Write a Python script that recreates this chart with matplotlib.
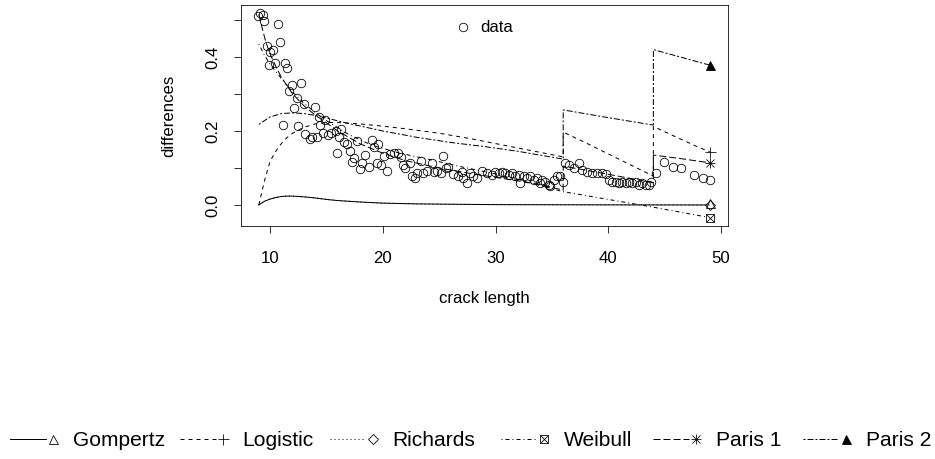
import matplotlib
matplotlib.use('Agg')
import matplotlib.pyplot as plt
from matplotlib.lines import Line2D
from matplotlib.legend_handler import HandlerBase

plt.rcParams['font.family'] = ['Liberation Sans', 'DejaVu Sans']
plt.rcParams['font.size'] = 16.8

# observed differences vs crack length
data_x = [8.9, 9.14, 9.34, 9.49, 9.7, 9.88, 10.0, 10.23, 10.47, 10.74, 10.92, 11.12, 11.33, 11.51,
          11.72, 11.95, 12.1, 12.37, 12.5, 12.7, 12.97, 13.14, 13.5, 13.74, 13.95, 14.15, 14.33,
          14.45, 14.7, 14.9, 15.13, 15.43, 15.81, 15.93, 16.1, 16.32, 16.6, 16.8, 17.1, 17.3, 17.4,
          17.7, 18.0, 18.15, 18.4, 18.78, 19.0, 19.2, 19.44, 19.58, 19.8, 20.09, 20.33, 20.62,
          20.98, 21.37, 21.58, 21.75, 21.96, 22.4, 22.55, 22.85, 23.0, 23.36, 23.6, 23.95, 24.34,
          24.54, 24.84, 25.14, 25.37, 25.61, 25.82, 26.26, 26.7, 27.0, 27.15, 27.5, 27.75, 28.04,
          28.34, 28.8, 29.2, 29.7, 29.97, 30.27, 30.57, 30.86, 31.16, 31.46, 31.75, 32.05, 32.2,
          32.49, 32.8, 33.09, 33.38, 33.68, 33.91, 34.13, 34.42, 34.72, 34.87, 35.16, 35.46, 35.76,
          36.0,
          36.2, 36.5, 36.95, 37.4, 37.7, 38.14, 38.59, 39.03, 39.48, 39.77, 40.06, 40.36, 40.66,
          40.95, 41.25, 41.55, 41.84, 42.14, 42.44, 42.73, 43.03, 43.33, 43.6, 43.8, 44.2,
          44.96, 45.7, 46.45, 47.64, 48.38, 49.06]
data_y = [0.512, 0.518, 0.514, 0.498, 0.43, 0.378, 0.414, 0.419, 0.385, 0.488, 0.441, 0.216, 0.385, 0.371,
          0.309, 0.324, 0.263, 0.288, 0.214, 0.329, 0.273, 0.192, 0.177, 0.185, 0.264, 0.185, 0.237,
          0.216, 0.195, 0.23, 0.189, 0.194, 0.201, 0.141, 0.185, 0.205, 0.171, 0.165, 0.147, 0.117, 0.126,
          0.174, 0.096, 0.113, 0.135, 0.104, 0.176, 0.158, 0.113, 0.165, 0.108, 0.132, 0.092, 0.138,
          0.14, 0.14, 0.131, 0.108, 0.099, 0.113, 0.077, 0.072, 0.086, 0.119, 0.086, 0.093, 0.113,
          0.09, 0.093, 0.087, 0.132, 0.099, 0.104, 0.084, 0.077, 0.09, 0.072, 0.059, 0.086, 0.077,
          0.072, 0.092, 0.086, 0.081, 0.09, 0.086, 0.09, 0.086, 0.081, 0.086, 0.077, 0.081, 0.06,
          0.077, 0.072, 0.077, 0.068, 0.072, 0.06, 0.068, 0.063, 0.054, 0.05, 0.068, 0.077, 0.077,
          0.063,
          0.113, 0.108, 0.099, 0.113, 0.095, 0.09, 0.087, 0.086, 0.086, 0.084, 0.068, 0.063, 0.063,
          0.059, 0.063, 0.059, 0.063, 0.059, 0.063, 0.054, 0.059, 0.054, 0.054, 0.063, 0.087,
          0.117, 0.104, 0.099, 0.081, 0.072, 0.068]

# fitted models (piecewise over the three load blocks where they jump)
gompertz_x = [9, 9.5, 10, 10.5, 11, 11.5, 12, 13, 14, 15, 16, 18, 20, 23, 26, 30, 36, 42, 49]
gompertz_y = [0, 0.01, 0.016, 0.02, 0.023, 0.024, 0.024, 0.022, 0.019, 0.015, 0.012, 0.008, 0.005,
              0.003, 0.002, 0.001, 0.0005, 0.0002, 0.0]

logistic_x = [[9, 9.5, 10, 10.5, 11, 11.5, 12, 13, 14, 15, 16, 18, 20, 22, 25, 28, 31, 34, 36],
              [36, 38, 40, 42, 44],
              [44, 45, 46, 47, 48, 49]]
logistic_y = [[0, 0.065, 0.118, 0.145, 0.166, 0.182, 0.194, 0.21, 0.219, 0.223, 0.223, 0.219, 0.213,
               0.206, 0.194, 0.178, 0.16, 0.142, 0.13],
              [0.197, 0.168, 0.138, 0.108, 0.078],
              [0.212, 0.198, 0.184, 0.17, 0.156, 0.144]]

# Richards sits on top of the Gompertz curve
richards_x = [9, 9.5, 10, 10.5, 11, 11.5, 12, 13, 14, 15, 16, 18, 20, 23, 26, 30, 36, 42, 49]
richards_y = [0, 0.01, 0.016, 0.02, 0.023, 0.024, 0.024, 0.022, 0.019, 0.015, 0.012, 0.008, 0.005,
              0.003, 0.002, 0.001, 0.001, 0.0005, 0.0]

weibull_x = [9, 9.5, 10, 11, 12, 13, 14, 15, 17, 19, 21.5, 24, 27, 30, 33, 36, 40, 44, 49]
weibull_y = [0.435, 0.405, 0.38, 0.342, 0.305, 0.275, 0.25, 0.228, 0.19, 0.162, 0.14, 0.124,
             0.103, 0.084, 0.06, 0.036, 0.015, -0.006, -0.034]

paris1_x = [[9, 9.3, 9.6, 10, 10.5, 11, 12, 13, 14, 15, 16, 18, 20, 22, 25, 28, 31, 34, 36],
            [36, 40, 44],
            [44, 46.5, 49]]
paris1_y = [[0.515, 0.478, 0.443, 0.408, 0.375, 0.345, 0.3, 0.268, 0.243, 0.222, 0.2, 0.165, 0.14,
             0.12, 0.1, 0.084, 0.07, 0.055, 0.04],
            [0.105, 0.083, 0.06],
            [0.135, 0.125, 0.114]]

paris2_x = [[9, 10, 11, 12, 13, 14, 15, 17, 20, 23, 26, 29, 32, 36],
            [36, 40, 44],
            [44, 46.5, 49]]
paris2_y = [[0.218, 0.238, 0.247, 0.249, 0.247, 0.242, 0.235, 0.22, 0.2, 0.183, 0.169, 0.158, 0.145, 0.124],
            [0.257, 0.236, 0.216],
            [0.42, 0.399, 0.378]]

labels = ['Gompertz', 'Logistic', 'Richards', 'Weibull', 'Paris 1', 'Paris 2']

LW = 1.0
dash = {'solid': '-', 'dashed': (0, (4, 4)), 'dotted': (0, (1, 3)),
        'dotdash': (0, (1, 3, 4, 3)), 'longdash': (0, (7, 3)), 'twodash': (0, (2, 2, 6, 2))}
# end symbols, stacked where R's pch is a combination
sym = {'Gompertz': [('^', 9, 'white')],
       'Logistic': [('+', 11, 'none')],
       'Richards': [('D', 7, 'none')],
       'Weibull': [('s', 8, 'white'), ('x', 8, 'none')],
       'Paris 1': [('+', 10, 'none'), ('x', 8, 'none')],
       'Paris 2': [('^', 9, 'k')]}
styles = dict(zip(labels, ['solid', 'dashed', 'dotted', 'dotdash', 'longdash', 'twodash']))

fig = plt.figure(figsize=(935 / 72, 459 / 72), dpi=72)
ax = fig.add_axes([241 / 935, 1 - 226 / 459, (728 - 241) / 935, (226 - 5) / 459])

ax.plot(data_x, data_y, ls='none', marker='o', ms=8.5, mfc='none', mec='k', mew=0.8)


def draw_model(xs, ys, name, shift=0.0):
    # xs/ys either one list or a list of pieces
    if not isinstance(xs[0], list):
        xs, ys = [xs], [ys]
    px, py = [], []
    for a, b in zip(xs, ys):
        px += a
        py += b
    ax.plot(px, py, color='k', lw=LW, ls=dash[styles[name]])
    for m, ms, fc in sym[name]:
        ax.plot(px[-1:], [py[-1] + shift], ls='none', marker=m, ms=ms, mfc=fc, mec='k', mew=0.8)


# R draws its open triangle a little above the point
draw_model(gompertz_x, gompertz_y, 'Gompertz', shift=0.006)
draw_model(richards_x, richards_y, 'Richards')
draw_model(logistic_x, logistic_y, 'Logistic')
draw_model(weibull_x, weibull_y, 'Weibull')
draw_model(paris1_x, paris1_y, 'Paris 1')
draw_model(paris2_x, paris2_y, 'Paris 2')

ax.set_xlim(7.42, 50.62)
ax.set_ylim(-0.0568, 0.5405)
ax.set_xticks([10, 20, 30, 40, 50])
ax.set_yticks([0.0, 0.1, 0.2, 0.3, 0.4, 0.5])
ax.set_yticklabels(['0.0', '', '0.2', '', '0.4', ''], rotation=90, va='center')
ax.tick_params(axis='both', length=7, width=0.8, direction='out')
ax.tick_params(axis='x', pad=18)
ax.tick_params(axis='y', pad=14)
for s in ax.spines.values():
    s.set_linewidth(0.8)

fig.text((241 + 728) / 2 / 935, 1 - 299 / 459, 'crack length', ha='center', va='center')
fig.text(169 / 935, 1 - 115.5 / 459, 'differences', rotation=90, ha='center', va='center')

# inner legend for the data points
h_data = Line2D([], [], ls='none', marker='o', ms=8.5, mfc='none', mec='k', mew=0.8)
ax.legend([h_data], ['data'], loc='center left', bbox_to_anchor=(454.6 / 935, 1 - 28 / 459),
          bbox_transform=fig.transFigure, frameon=False, borderpad=0, borderaxespad=0,
          handlelength=1.0, handletextpad=0.51, numpoints=1, fontsize=16.8)


class LineThenSymbol(HandlerBase):
    # short line, then the model symbol to its right
    def create_artists(self, legend, orig_handle, xdescent, ydescent, width, height, fontsize, trans):
        name = orig_handle
        y = height / 2 - ydescent
        x0 = -xdescent
        arts = [Line2D([x0, x0 + width - 11], [y, y], color='k', lw=LW, ls=dash[styles[name]],
                       transform=trans)]
        for m, ms, fc in sym[name]:
            arts.append(Line2D([x0 + width - 4], [y], ls='none', marker=m, ms=ms, mfc=fc,
                               mec='k', mew=0.8, transform=trans))
        return arts


# bottom legend, one entry per slot as R spaced them
slot_px = [10, 180, 330, 501, 653, 803]
for name, px in zip(labels, slot_px):
    fig.legend([name], [name], handler_map={name: LineThenSymbol()},
               loc='center left', bbox_to_anchor=(px / 935, 1 - 441 / 459), fontsize=21,
               frameon=False, handlelength=47 / 21, handletextpad=0.75,
               borderpad=0, borderaxespad=0)

fig.savefig('out.png', dpi=72)
